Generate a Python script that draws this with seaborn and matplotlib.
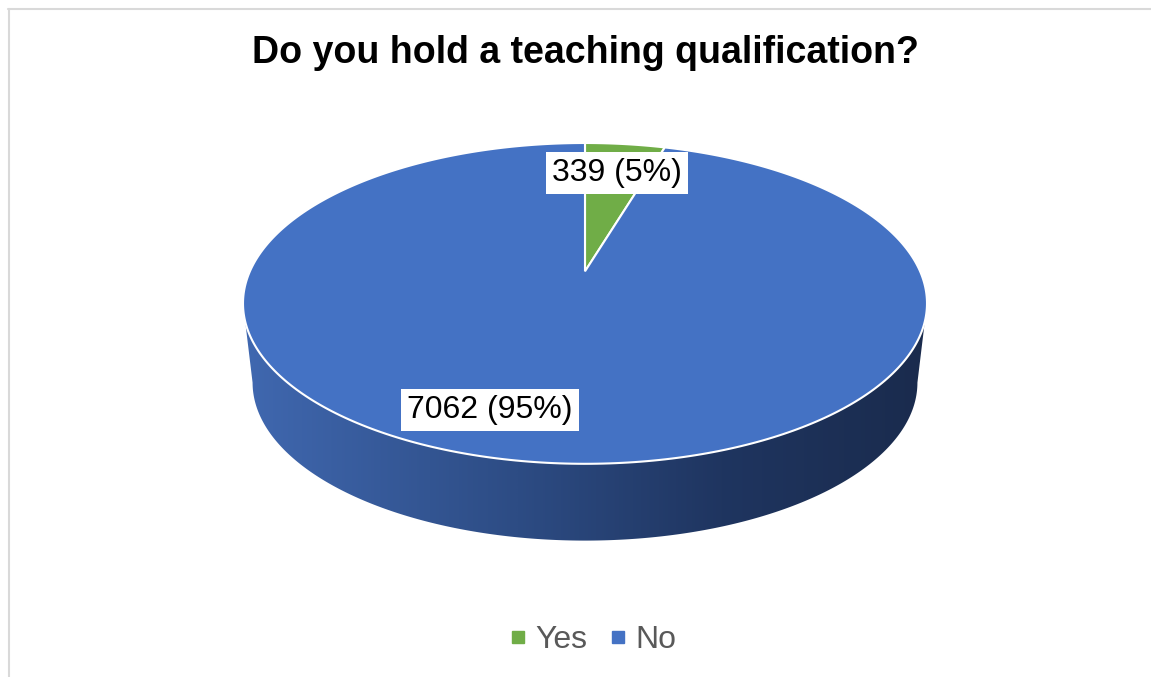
import numpy as np
import matplotlib
matplotlib.use("Agg")
import matplotlib.pyplot as plt
import seaborn as sns
from matplotlib.patches import Polygon
from matplotlib.lines import Line2D
from matplotlib.colors import LinearSegmentedColormap

# ---- data ----
title = "Do you hold a teaching qualification?"
categories = ["Yes", "No"]
counts = [339, 7062]
percents = [5, 95]

sns.set_theme(style="white")
plt.rcParams['font.family'] = ['Liberation Sans', 'DejaVu Sans']

colors = ["#70AD47", "#4472C4"]

W, H = 1151, 677
fig = plt.figure(figsize=(W / 100, H / 100), dpi=100)
fig.patch.set_facecolor("white")

def fx(x):
    return x / W

def fy(y):
    return 1 - y / H

# chart frame (top and left edges visible)
fig.add_artist(Line2D([fx(8), fx(1151)], [fy(9), fy(9)], color="#d9d9d9", lw=1.5))
fig.add_artist(Line2D([fx(8.5), fx(8.5)], [fy(9), fy(677)], color="#d9d9d9", lw=1.5))

# pie axes spanning ellipse + depth
left, right, top, bottom = 243, 927, 143, 543
b_px = 160.0
depth = 79 / b_px
persp = 0.2  # perspective shift of the pie centre toward the back
ax = fig.add_axes([fx(left), fy(bottom), (right - left) / W, (bottom - top) / H])
ax.set_xlim(-1, 1)
ax.set_ylim(-1 - depth, 1)
ax.set_aspect("auto")
ax.axis("off")


def project(xs, ys):
    """perspective (circle-preserving) map of the unit disk"""
    den = 1 + persp * ys
    return xs * np.sqrt(1 - persp ** 2) / den, (ys + persp) / den


# side of the cylinder
t = np.linspace(np.pi, 2 * np.pi, 300)
top_curve = np.column_stack([np.cos(t), np.sin(t)])
bot_curve = np.column_stack([0.972 * np.cos(t), 0.985 * np.sin(t) - depth])
side_pts = np.vstack([top_curve, bot_curve[::-1]])
side = Polygon(side_pts, closed=True, facecolor="none", edgecolor="none")
ax.add_patch(side)
cmap = LinearSegmentedColormap.from_list(
    "side", [(0.0, "#4068b0"), (0.4, "#2d4c84"), (0.7, "#1f3560"), (1.0, "#1a2b4d")])
grad = np.linspace(0, 1, 512)[None, :]
im = ax.imshow(grad, extent=[-1, 1, -1 - depth, 0.05], aspect="auto", cmap=cmap,
               zorder=1, interpolation="bilinear")
im.set_clip_path(side)
ax.set_xlim(-1, 1)
ax.set_ylim(-1 - depth, 1)

# top face: slices start at 12 o'clock, clockwise
fracs = np.asarray(counts, float) / np.sum(counts)
bounds = np.concatenate([[0], np.cumsum(fracs)])
cx, cy = project(np.array([0.0]), np.array([0.0]))
for i, c in enumerate(colors):
    th = np.linspace(bounds[i], bounds[i + 1], 400) * 2 * np.pi
    px, py = project(np.sin(th), np.cos(th))
    xs = np.concatenate([cx, px, cx])
    ys = np.concatenate([cy, py, cy])
    ax.fill(xs, ys, facecolor=c, edgecolor="white", linewidth=1.5,
            joinstyle="miter", zorder=2)

# data labels
label_pos = [(617, 173), (490, 410)]
for (px_, py_), c, p in zip(label_pos, counts, percents):
    fig.text(fx(px_), fy(py_), f"{c} ({p}%)", ha="center", va="center",
             fontsize=23, color="black",
             bbox=dict(boxstyle="square,pad=0.2", fc="white", ec="none"))

# title
fig.text(fx(585), fy(53), title, ha="center", va="center",
         fontsize=27, fontweight="bold", color="black")

# legend
handles = [Line2D([], [], marker="s", color=c, linestyle="none", markersize=8)
           for c in colors]
fig.legend(handles, categories, loc="center", bbox_to_anchor=(fx(591), fy(640)),
           ncol=2, frameon=False, fontsize=23, labelcolor="#595959",
           handletextpad=0.15, columnspacing=0.55, handlelength=0.8)

fig.savefig("out.png", dpi=100, facecolor="white")
